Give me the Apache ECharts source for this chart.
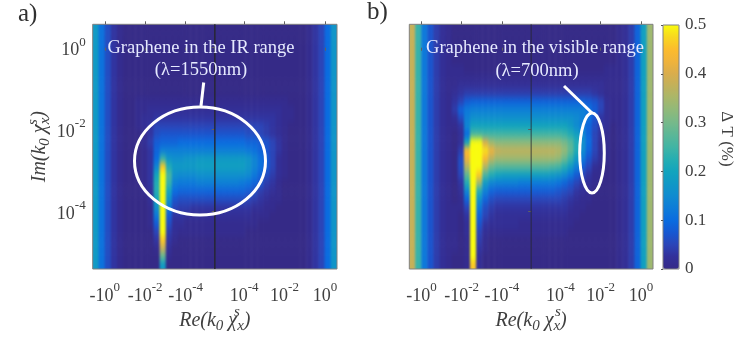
<!DOCTYPE html>
<html><head><meta charset="utf-8">
<style>html,body{margin:0;padding:0;background:#fff}#c{width:747px;height:344px}</style>
<script src="https://cdn.jsdelivr.net/npm/echarts@6/dist/echarts.min.js"></script>
</head><body>
<svg width="0" height="0" style="position:absolute"><filter id="soft" x="0" y="0" width="100%" height="100%" color-interpolation-filters="sRGB"><feGaussianBlur stdDeviation="1.3 3"/></filter></svg>
<div id="c"></div>
<script>
// values in units of 0.01 %; rows top to bottom, columns left to right
const aT=[18,11,6,3,1,0,0,0,0,0, 0,0,0,0,0,0,0,0,0,0, 0,0,0,0,0,0,0,0,0,0, 0,0,0,0,0,1,3,5,10,17];
const panelA=[aT,aT,aT,aT,aT,aT,aT,aT,aT,
[18,11,6,3,1,0,0,1,1,1, 1,1,1,1,1,1,1,1,1,1, 1,1,1,1,1,1,1,1,1,1, 1,1,0,0,0,1,3,5,10,17],
[18,11,6,3,1,0,0,1,1,2, 2,2,2,2,2,2,2,2,2,2, 2,2,2,2,2,2,2,2,2,2, 2,1,1,0,0,1,3,5,10,17],
[18,11,6,3,1,0,0,1,2,2, 3,3,3,3,3,3,3,3,3,3, 3,3,3,3,3,3,3,3,3,3, 2,1,1,0,0,1,3,5,10,17],
[18,11,6,3,1,0,0,1,2,3, 5,5,5,5,5,5,5,5,5,5, 5,5,5,5,5,5,5,5,4,3, 2,1,0,0,0,1,3,5,10,17],
[18,11,6,3,1,0,0,0,1,3, 6,7,7,7,7,7,7,7,7,7, 7,7,7,7,7,6,6,5,4,3, 2,1,0,0,0,1,3,5,10,17],
[18,11,6,3,1,0,0,0,2,4, 8,9,9,9,10,10,10,10,10,10, 10,10,10,10,10,9,9,8,7,5, 3,1,0,0,0,1,3,5,10,17],
[18,11,6,3,1,0,0,0,1,3, 9,13,13,13,13,13,13,13,13,13, 13,13,13,13,13,12,11,9,7,5, 3,1,0,0,0,1,3,5,10,17],
[18,11,6,3,1,0,0,0,1,3, 10,24,17,16,16,17,17,18,18,18, 18,18,18,18,18,17,14,11,8,5, 2,1,0,0,0,1,3,5,10,17],
[18,11,6,3,1,0,0,0,1,3, 14,46,22,18,18,18,18,19,19,19, 19,19,19,19,19,17,14,11,8,5, 2,1,0,0,0,1,3,5,10,17],
[18,11,6,3,1,0,0,0,1,3, 20,50,26,16,15,15,15,16,16,16, 16,16,16,16,16,15,12,9,6,4, 2,1,0,0,0,1,3,5,10,17],
[18,11,6,3,1,0,0,0,1,3, 22,50,24,13,12,12,12,13,13,13, 13,13,13,13,12,11,9,7,4,3, 1,0,0,0,0,1,3,5,10,17],
[18,11,6,3,1,0,0,0,1,2, 22,50,20,10,9,9,9,9,9,9, 9,9,9,9,9,8,6,4,3,2, 1,0,0,0,0,1,3,5,10,17],
[18,11,6,3,1,0,0,0,0,2, 20,50,16,7,6,6,6,6,6,6, 6,6,6,6,6,5,4,3,2,1, 1,0,0,0,0,1,3,5,10,17],
[18,11,6,3,1,0,0,0,0,1, 16,50,12,5,4,4,3,3,3,3, 3,3,3,3,3,3,2,2,1,1, 0,0,0,0,0,1,3,5,10,17],
[18,11,6,3,1,0,0,0,0,1, 12,50,8,3,3,2,2,2,2,2, 2,2,2,2,2,2,1,1,1,0, 0,0,0,0,0,1,3,5,10,17],
[18,11,6,3,1,0,0,0,0,1, 8,50,6,2,2,1,1,1,1,1, 1,1,1,1,1,1,1,0,0,0, 0,0,0,0,0,1,3,5,10,17],
[18,11,6,3,1,0,0,0,0,0, 5,50,4,2,1,1,1,1,1,1, 1,1,1,1,1,0,0,0,0,0, 0,0,0,0,0,1,3,5,10,17],
[18,11,6,3,1,0,0,0,0,0, 3,46,3,1,0,0,0,0,0,0, 0,0,0,0,0,0,0,0,0,0, 0,0,0,0,0,1,3,5,10,17],
[18,11,6,3,1,0,0,0,0,0, 1,38,2,0,0,0,0,0,0,0, 0,0,0,0,0,0,0,0,0,0, 0,0,0,0,0,1,3,5,10,17],
[18,11,6,3,1,0,0,0,0,0, 0,28,1,0,0,0,0,0,0,0, 0,0,0,0,0,0,0,0,0,0, 0,0,0,0,0,1,3,5,10,17],
[18,11,6,3,1,0,0,0,0,0, 0,18,0,0,0,0,0,0,0,0, 0,0,0,0,0,0,0,0,0,0, 0,0,0,0,0,1,3,5,10,17]];
const bT=[38,24,12,7,4,2,1,0,0,0, 0,0,0,0,0,0,0,0,0,0, 0,0,0,0,0,0,0,0,0,0, 0,0,0,0,1,2,4,9,19,34];
const panelB=[bT,bT,bT,bT,bT,
[38,24,12,7,4,2,1,1,1,0, 0,0,0,0,0,0,0,0,0,0, 0,0,0,0,0,0,0,0,0,0, 0,0,1,1,1,2,4,9,19,34],
[38,24,12,7,4,2,1,1,1,1, 1,1,1,1,1,1,1,1,1,1, 1,1,1,1,1,1,1,1,1,1, 1,1,1,1,1,2,4,9,19,34],
[38,24,12,7,4,2,1,1,2,2, 2,2,2,2,2,2,2,2,2,2, 2,2,2,2,2,2,2,2,2,2, 2,2,1,1,1,2,4,9,19,34],
[38,24,12,7,4,2,1,2,3,4, 4,4,4,4,4,4,4,4,4,4, 4,4,4,4,4,4,4,4,4,4, 3,2,1,1,1,2,4,9,19,34],
[38,24,12,7,4,2,1,3,5,8, 9,9,9,9,9,9,9,9,9,9, 9,9,9,9,9,9,9,9,9,8, 7,5,2,1,1,2,4,9,19,34],
[38,24,12,7,4,2,1,4,9,12, 13,13,13,13,13,13,13,13,13,13, 13,13,13,13,13,13,13,13,13,11, 8,5,2,1,1,2,4,9,19,34],
[38,24,12,7,4,2,1,2,6,13, 16,16,16,16,16,16,16,16,16,16, 16,16,16,16,16,16,16,15,13,11, 7,3,2,1,1,2,4,9,19,34],
[38,24,12,7,4,2,1,1,3,14, 20,20,20,20,20,20,20,20,20,20, 20,20,20,20,20,20,18,15,12,9, 6,3,2,0,1,2,4,9,19,34],
[38,24,12,7,4,2,1,0,2,10, 26,26,25,25,25,25,25,25,25,25, 25,25,25,25,25,24,22,19,14,9, 5,3,1,0,1,2,4,9,19,34],
[38,24,12,7,4,2,1,0,2,20, 50,50,40,34,32,32,32,32,32,32, 32,32,32,32,32,30,27,22,16,10, 5,2,1,0,1,2,4,9,19,34],
[38,24,12,7,4,2,1,0,4,45, 50,50,48,42,38,37,37,37,37,37, 37,37,37,37,36,33,28,22,15,9, 5,2,1,0,1,2,4,9,19,34],
[38,24,12,7,4,2,1,0,6,42, 50,50,44,37,34,34,34,34,34,34, 34,34,34,34,33,29,24,18,12,7, 4,2,1,0,1,2,4,9,19,34],
[38,24,12,7,4,2,1,0,6,36, 50,50,36,29,27,27,27,27,27,27, 27,27,27,26,25,22,18,13,8,5, 2,1,0,0,1,2,4,9,19,34],
[38,24,12,7,4,2,1,0,5,28, 50,46,26,22,20,19,19,19,19,19, 19,19,19,18,17,15,12,8,5,3, 1,1,0,0,1,2,4,9,19,34],
[38,24,12,7,4,2,1,0,3,22, 50,34,18,14,13,13,13,13,12,12, 12,12,12,12,11,9,7,5,3,2, 1,0,0,0,1,2,4,9,19,34],
[38,24,12,7,4,2,1,0,2,14, 50,22,13,9,8,8,8,8,8,8, 8,8,8,8,7,6,5,3,2,1, 0,0,0,0,1,2,4,9,19,34],
[38,24,12,7,4,2,1,0,1,9, 50,16,9,6,5,5,5,5,5,5, 5,5,5,5,5,4,3,2,1,1, 0,0,0,0,1,2,4,9,19,34],
[38,24,12,7,4,2,1,1,1,5, 50,12,6,4,3,3,3,3,3,3, 3,3,3,3,3,3,2,1,1,0, 0,0,0,0,1,2,4,9,19,34],
[38,24,12,7,4,2,1,1,0,3, 50,9,5,3,2,2,2,2,2,2, 2,2,2,2,2,2,1,1,0,0, 0,0,0,0,1,2,4,9,19,34],
[38,24,12,7,4,2,1,1,0,2, 50,7,3,2,2,2,2,2,1,1, 1,1,1,1,1,1,1,0,0,0, 0,0,0,0,1,2,4,9,19,34],
[38,24,12,7,4,2,1,1,0,2, 50,5,2,1,1,1,1,1,1,1, 1,1,1,1,1,1,0,0,0,0, 0,0,0,0,1,2,4,9,19,34],
[38,24,12,7,4,2,1,1,0,1, 50,4,1,0,0,0,0,0,0,0, 0,0,0,0,0,0,0,0,0,0, 0,0,0,0,1,2,4,9,19,34],
[38,24,12,7,4,2,1,1,0,1, 50,3,1,0,0,0,0,0,0,0, 0,0,0,0,0,0,0,0,0,0, 0,0,0,0,1,2,4,9,19,34],
[38,24,12,7,4,2,1,0,0,1, 50,2,0,0,0,0,0,0,0,0, 0,0,0,0,0,0,0,0,0,0, 0,0,0,0,1,2,4,9,19,34],
[38,24,12,7,4,2,1,0,0,1, 46,2,0,0,0,0,0,0,0,0, 0,0,0,0,0,0,0,0,0,0, 0,0,0,0,1,2,4,9,19,34]];
const reTicks=[-5.45,-3.45,-1.45,1.45,3.45,5.45];
const reTickExp=[['-10','0'],['-10','-2'],['-10','-4'],['10','-4'],['10','-2'],['10','0']];
const imTicks=[-4,-2,0];
const imTickExp={'-4':'-4','-2':'-2','0':'0'};
const zeroLine=[[0,-5.417],[0,0.573]];
const palette=['#352a87','#33309a','#2b45b8','#1658d2','#0a6ce0','#0e7cd8','#108bd0','#1098c6','#12a4bd','#25aeb2','#41b4a4','#5bb797','#76b98a','#8fb97a','#a8b76a','#c1b15b','#d9ad4d','#efb33c','#fcbc2d','#f8d71f','#f9fb0e'];

const SERIF='"Liberation Serif",serif', GREY='#404040';
const FA={l:92.7,t:24.3,w:244.3,h:244.7}, FB={l:409.3,t:24.3,w:243.7,h:244.7};
function pad(rows){const r=rows.map(x=>[x[0],...x,x[x.length-1]]);return [r[0],...r,r[r.length-1]];}
function cells(rows){const o=[];rows.forEach((row,j)=>row.forEach((v,i)=>o.push([i,j,v/100])));return o;}
const padA=pad(panelA), padB=pad(panelB);
const idx=n=>Array.from({length:n},(_,i)=>String(i));
const heatGrid=F=>{const cw=F.w/40,ch=F.h/30;return {left:F.l-cw,top:F.t-ch,width:F.w+2*cw,height:F.h+2*ch,show:false,zlevel:0};};
const frameGrid=F=>({left:F.l,top:F.t,width:F.w,height:F.h,show:true,borderColor:'#808080',borderWidth:1,backgroundColor:'transparent',zlevel:1});
const tickRich={b:{fontFamily:SERIF,fontSize:18,color:GREY,lineHeight:24,verticalAlign:'bottom'},s:{fontFamily:SERIF,fontSize:13,color:GREY,verticalAlign:'top',lineHeight:24}};
const nameRich={i:{fontFamily:SERIF,fontStyle:'italic',fontSize:20,color:GREY,lineHeight:26},u:{fontFamily:SERIF,fontStyle:'italic',fontSize:15,color:GREY,verticalAlign:'bottom',lineHeight:26}};
const reName='{i|Re(k}{u|0}{i| χ}{u|x}{i|)}';
const imName='{i|Im(k}{u|0}{i| χ}{u|x}{i|)}';
const tickOpt={show:true,length:3,inside:false,lineStyle:{color:'#606060',width:1}};
function fmtRe(v){const k=reTicks.findIndex(t=>Math.abs(t-v)<1e-6);return k<0?'':`{b|${reTickExp[k][0]}}{s|${reTickExp[k][1]}}`;}
function reAxis(grid){return {type:'value',gridIndex:grid,min:-6.05,max:6.05,position:'bottom',zlevel:1,splitLine:{show:false},axisLine:{show:false},
  axisTick:{...tickOpt,customValues:reTicks},axisLabel:{show:true,customValues:reTicks,margin:12,formatter:fmtRe,rich:tickRich},
  name:reName,nameLocation:'middle',nameGap:39,nameTextStyle:{rich:nameRich}};}
function topAxis(grid){return {type:'value',gridIndex:grid,min:-6.05,max:6.05,position:'top',zlevel:1,splitLine:{show:false},axisLine:{show:false},
  axisTick:{...tickOpt,customValues:reTicks},axisLabel:{show:false}};}
function imAxis(grid,labels){return {type:'value',gridIndex:grid,min:-5.417,max:0.573,position:'left',zlevel:1,splitLine:{show:false},axisLine:{show:false},
  axisTick:{...tickOpt,customValues:imTicks},
  axisLabel:{show:labels,customValues:imTicks,margin:7,formatter:v=>`{b|10}{s|${imTickExp[String(Math.round(v))]}}`,rich:tickRich},
  ...(labels?{name:imName,nameLocation:'middle',nameRotate:90,nameGap:40,nameTextStyle:{rich:nameRich}}:{})};}
const hide=(axis)=>({type:'category',show:false,...axis});
const ann=(text,x,y)=>({type:'text',zlevel:2,x,y,silent:true,style:{text,fill:'#e6eaff',font:'18.5px '+SERIF,align:'center',verticalAlign:'middle'}});
const outer=(text,x,y)=>({type:'text',zlevel:2,x,y,silent:true,style:{text,fill:'#303030',font:'25px '+SERIF,align:'left',verticalAlign:'middle'}});
const white={stroke:'#fff',lineWidth:3,fill:null};
const sMark=(x,y,rot)=>({type:'text',zlevel:2,x,y,rotation:rot,silent:true,style:{text:'s',fill:GREY,font:'italic 15px '+SERIF,align:'center',verticalAlign:'middle'}});
const heat=(i,data)=>({type:'heatmap',xAxisIndex:i,yAxisIndex:i,data,zlevel:0,progressive:0,animation:false,silent:true,emphasis:{disabled:true},itemStyle:{borderWidth:0}});
const zero=(ax,w)=>({type:'line',xAxisIndex:ax,yAxisIndex:ax,data:zeroLine,zlevel:1,showSymbol:false,silent:true,animation:false,lineStyle:{color:'#26262e',width:w}});

const chart=echarts.init(document.getElementById('c'),null,{renderer:'canvas'});
chart.setOption({
  animation:false,
  grid:[heatGrid(FA),heatGrid(FB),frameGrid(FA),frameGrid(FB),{left:663,top:25,width:16,height:244,show:true,borderColor:'#808080',borderWidth:1,backgroundColor:'transparent',zlevel:2}],
  xAxis:[hide({gridIndex:0,data:idx(42)}),hide({gridIndex:1,data:idx(42)}),reAxis(2),reAxis(3),
    {type:'value',gridIndex:4,show:false,min:0,max:1},topAxis(2),topAxis(3)],
  yAxis:[hide({gridIndex:0,data:idx(32),inverse:true}),hide({gridIndex:1,data:idx(32),inverse:true}),imAxis(2,true),imAxis(3,false),
    {type:'value',gridIndex:4,min:0,max:0.5,interval:0.1,position:'right',zlevel:2,splitLine:{show:false},axisLine:{show:false},
     axisTick:{show:true,inside:true,length:2,lineStyle:{color:'#555'}},
     axisLabel:{margin:6,padding:[4,0,0,0],fontFamily:SERIF,fontSize:17,color:GREY,formatter:v=>String(+v.toFixed(1))}}],
  visualMap:{type:'continuous',min:0,max:0.5,seriesIndex:[0,1],left:663,top:25,itemWidth:16,itemHeight:244,padding:0,borderWidth:0,calculable:false,hoverLink:false,realtime:false,zlevel:1,z:1,inRange:{color:palette}},
  series:[heat(0,cells(padA)),heat(1,cells(padB)),zero(2,1.4),zero(3,0.8)],
  graphic:{elements:[
    outer('a)',18,14),outer('b)',367,12),
    ann('Graphene in the IR range',201,48),ann('(λ=1550nm)',201,70),
    ann('Graphene in the visible range',535,48),ann('(λ=700nm)',537,71),
    {type:'ellipse',zlevel:2,silent:true,shape:{cx:200,cy:161,rx:65.5,ry:54},style:white},
    {type:'line',zlevel:2,silent:true,shape:{x1:203.7,y1:82.5,x2:201,y2:106},style:{stroke:'#fff',lineWidth:3}},
    {type:'ellipse',zlevel:2,silent:true,shape:{cx:592,cy:153,rx:12.3,ry:40},style:white},
    {type:'line',zlevel:2,silent:true,shape:{x1:564,y1:86,x2:592,y2:113},style:{stroke:'#fff',lineWidth:3}},
    sMark(237,312,0),sMark(558,312,0),sMark(33,122,Math.PI/2),
    {type:'text',zlevel:2,x:726,y:139,rotation:-Math.PI/2,silent:true,style:{text:'Δ T (%)',fill:GREY,font:'17px '+SERIF,align:'center',verticalAlign:'middle'}}
  ]}
});
function soften(){
  const cv=document.querySelector('#c canvas[data-zr-dom-id="zr_0"]')||document.querySelector('#c canvas');
  cv.style.filter='url(#soft)';
  const r=F=>`M${F.l} ${F.t}H${F.l+F.w}V${F.t+F.h}H${F.l}Z`;
  cv.style.clipPath=`path('${r(FA)} ${r(FB)}')`;
}
soften();chart.on('finished',soften);
</script></body></html>
